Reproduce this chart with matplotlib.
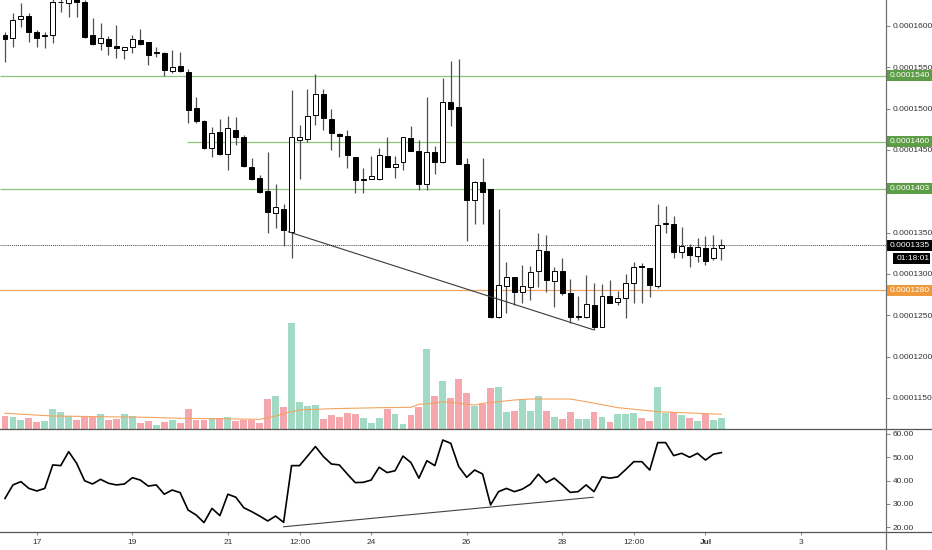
import numpy as np
import matplotlib as mpl
mpl.use("Agg")
import matplotlib.pyplot as plt
from matplotlib.patches import Rectangle
from matplotlib.lines import Line2D
from matplotlib.transforms import blended_transform_factory

plt.rcParams['font.family'] = ['Liberation Sans', 'DejaVu Sans']

# ---------------------------------------------------------
# data: 4h candles, Jun 16 08:00 -> Jul 1 08:00
# prices in units of 1e-7 (1600 -> 0.0001600)
# ---------------------------------------------------------
opens = [1589.2, 1585.5, 1608.5, 1612.1, 1592.8, 1588.0, 1589.2, 1628.5, 1627.9, 1632.5,
         1629.1, 1589.2, 1579.5, 1584.3, 1575.8, 1571.0, 1574.6, 1583.1, 1580.7, 1567.4,
         1567.4, 1545.6, 1551.6, 1544.4, 1500.8, 1485.1, 1452.4, 1471.8, 1445.2, 1474.2,
         1465.7, 1429.4, 1416.1, 1400.4, 1373.8, 1378.6, 1350.8, 1462.1, 1463.3, 1492.4,
         1517.8, 1487.5, 1469.4, 1466.9, 1441.5, 1414.0, 1414.9, 1414.9, 1442.7, 1429.4,
         1435.5, 1464.5, 1448.8, 1408.9, 1447.6, 1435.5, 1508.1, 1502.0, 1433.1, 1389.5,
         1411.3, 1402.8, 1247.9, 1285.4, 1296.3, 1278.2, 1284.2, 1303.6, 1327.8, 1291.5,
         1303.6, 1277.0, 1247.5, 1247.9, 1262.4, 1235.8, 1273.3, 1266.1, 1270.9, 1289.1,
         1308.6, 1307.2, 1285.4, 1360.3, 1360.5, 1326.6, 1332.6, 1321.7, 1331.4, 1319.3,
         1331.4]
highs = [1592.8, 1615.8, 1627.9, 1615.8, 1595.2, 1592.8, 1634.0, 1634.0, 1636.0, 1636.0,
         1631.0, 1609.7, 1603.6, 1587.9, 1601.2, 1574.6, 1589.2, 1596.4, 1580.7, 1574.6,
         1568.6, 1571.0, 1568.6, 1548.0, 1514.1, 1486.3, 1477.8, 1487.5, 1491.2, 1490.0,
         1468.2, 1440.3, 1419.7, 1447.6, 1408.9, 1384.7, 1522.6, 1480.3, 1523.8, 1542.0,
         1523.8, 1499.6, 1470.6, 1474.2, 1441.5, 1428.2, 1442.7, 1452.4, 1465.7, 1442.7,
         1465.7, 1479.1, 1462.1, 1514.1, 1454.8, 1537.1, 1557.7, 1560.1, 1440.3, 1412.5,
         1440.3, 1402.8, 1378.6, 1314.5, 1296.3, 1310.9, 1309.6, 1349.6, 1347.2, 1308.4,
         1319.3, 1293.9, 1273.3, 1298.8, 1289.1, 1287.9, 1292.7, 1279.4, 1300.0, 1314.5,
         1313.3, 1307.2, 1384.7, 1382.2, 1370.1, 1356.8, 1336.3, 1343.5, 1346.0, 1347.2,
         1342.3]
lows = [1556.5, 1574.6, 1598.8, 1580.7, 1574.6, 1573.4, 1579.5, 1617.0, 1610.9, 1610.9,
        1585.5, 1577.1, 1571.0, 1565.0, 1561.3, 1560.1, 1567.4, 1577.1, 1552.9, 1562.5,
        1539.5, 1543.2, 1544.4, 1482.7, 1482.7, 1451.0, 1441.5, 1444.0, 1425.8, 1456.0,
        1429.4, 1413.7, 1398.0, 1349.6, 1355.6, 1333.9, 1319.3, 1414.9, 1459.7, 1480.0,
        1474.2, 1450.0, 1441.5, 1428.2, 1398.0, 1398.0, 1414.9, 1413.7, 1429.4, 1416.1,
        1425.8, 1448.8, 1401.6, 1401.6, 1421.0, 1434.3, 1479.1, 1433.1, 1339.9, 1360.5,
        1360.5, 1246.7, 1246.7, 1252.8, 1262.4, 1264.9, 1268.5, 1284.2, 1278.2, 1260.0,
        1274.6, 1240.7, 1244.3, 1246.7, 1232.2, 1235.8, 1264.9, 1262.4, 1246.7, 1264.9,
        1264.9, 1272.1, 1283.0, 1349.6, 1319.3, 1319.3, 1308.4, 1314.5, 1310.9, 1316.9,
        1316.9]
closes = [1584.3, 1607.3, 1612.1, 1592.8, 1585.5, 1589.2, 1629.1, 1629.1, 1633.0, 1629.1,
          1586.7, 1578.3, 1585.5, 1575.8, 1573.4, 1574.6, 1584.3, 1578.3, 1565.0, 1567.6,
          1546.8, 1550.4, 1545.6, 1498.4, 1485.1, 1452.4, 1470.6, 1445.2, 1476.6, 1465.7,
          1430.6, 1414.9, 1399.2, 1375.0, 1381.0, 1353.2, 1465.7, 1465.7, 1491.2, 1517.8,
          1488.7, 1470.6, 1467.5, 1444.0, 1413.7, 1414.9, 1418.5, 1444.0, 1429.4, 1433.1,
          1465.7, 1448.8, 1408.9, 1447.6, 1435.5, 1508.1, 1499.6, 1433.1, 1389.5, 1411.3,
          1399.2, 1247.9, 1286.7, 1296.3, 1278.2, 1285.4, 1302.4, 1329.0, 1292.7, 1303.6,
          1277.0, 1247.9, 1248.3, 1263.7, 1235.8, 1273.3, 1264.9, 1270.9, 1289.1, 1308.4,
          1308.2, 1286.7, 1359.3, 1360.5, 1326.6, 1333.9, 1322.9, 1332.6, 1315.7, 1331.4,
          1335.0]
volume = [13, 12, 9, 11, 7, 8, 20, 17, 13, 9,
          12, 12, 15, 9, 10, 15, 13, 6, 8, 4,
          7, 9, 6, 20, 9, 9, 11, 11, 12, 8,
          9, 9, 6, 30, 33, 22, 106, 27, 23, 24,
          10, 14, 12, 16, 15, 11, 6, 11, 20, 15,
          5, 14, 22, 80, 33, 48, 31, 50, 36, 23,
          25, 41, 42, 17, 18, 30, 18, 33, 18, 12,
          10, 17, 10, 10, 17, 12, 7, 15, 15, 16,
          11, 8, 42, 16, 17, 14, 11, 8, 15, 9,
          11]
vol_ma_idx = [0, 6, 12, 18, 22, 29, 32, 33, 34, 36, 37, 39, 41, 47, 51, 52, 54, 55,
              57, 59, 60, 62, 64, 66, 71, 73, 77, 80, 82, 84, 87, 90]
vol_ma = [15.7, 13.0, 12.3, 11.7, 10.7, 10.0, 9.7, 11.3, 13.0, 17.3, 19.0, 19.7, 20.3,
          21.3, 21.7, 24.7, 25.7, 27.3, 25.7, 24.0, 25.7, 27.3, 29.0, 30.0, 30.0, 27.3,
          21.3, 19.0, 17.3, 16.7, 15.7, 14.7]
rsi = [32.3, 38.1, 39.5, 36.6, 35.5, 36.6, 46.7, 46.4, 52.4, 47.4,
       39.9, 38.5, 40.5, 38.8, 38.1, 38.5, 41.2, 40.2, 37.6, 38.1,
       34.1, 35.9, 34.8, 27.3, 25.2, 21.9, 28.0, 24.9, 34.1, 32.8,
       28.3, 26.6, 24.7, 22.6, 24.7, 22.0, 46.4, 46.4, 50.5, 54.6,
       50.3, 47.1, 46.7, 42.8, 39.1, 39.2, 40.2, 45.7, 43.4, 44.2,
       50.5, 47.7, 41.0, 48.5, 46.4, 57.4, 56.0, 46.0, 41.4, 44.5,
       42.8, 29.5, 35.2, 36.6, 35.2, 36.3, 38.4, 42.7, 39.1, 41.0,
       38.1, 34.9, 35.2, 38.1, 35.2, 41.6, 41.0, 41.6, 44.8, 48.1,
       48.1, 44.5, 56.3, 56.3, 50.7, 51.7, 50.0, 51.7, 48.8, 51.3,
       52.0]

# drawn objects on the chart
price_trend_idx = [35.6, 73.9]
price_trend_val = [1351.0, 1232.5]
rsi_trend_idx = [35.0, 73.9]
rsi_trend_val = [20.1, 32.8]
green_levels = [1540, 1460, 1403]
green_level_start = [None, 22.9, None]
orange_level = 1280
last_price = 1335
countdown = "01:18:01"

x_tick_pos = [4, 16, 28, 37, 46, 58, 70, 79, 88, 100]
x_tick_labels = ["17", "19", "21", "12:00", "24", "26", "28", "12:00", "Jul", "3"]
price_ticks = [1150, 1200, 1250, 1300, 1350, 1450, 1500, 1550, 1600]
rsi_ticks = [20, 30, 40, 50, 60]

# ---------------------------------------------------------
# layout (pixel based)
# ---------------------------------------------------------
W, H = 932, 550
AX_R = 886          # price scale line
MAIN_BOT = 429      # separator main / rsi
RSI_BOT = 532       # separator rsi / time axis
PX_CANDLE = 7.96
X0 = -5 / PX_CANDLE
X1 = (AX_R - 5) / PX_CANDLE

C_GREEN_LINE = "#8cc47a"
C_GREEN_LBL = "#5d9d45"
C_ORANGE_LINE = "#f2a461"
C_ORANGE_LBL = "#ee9a3c"
C_VOL_UP = "#a2dac6"
C_VOL_DN = "#f4a7ad"
C_TXT = "#333333"
C_AXIS = "#707070"

fig = plt.figure(figsize=(W / 100, H / 100), dpi=100)
fig.patch.set_facecolor("white")

main_rect = [0, (H - MAIN_BOT) / H, AX_R / W, MAIN_BOT / H]
rsi_rect = [0, (H - RSI_BOT) / H, AX_R / W, (RSI_BOT - MAIN_BOT) / H]

idx = np.arange(len(opens))
o = np.array(opens)
c = np.array(closes)
up = c >= o

# volume overlay (bottom of main pane)
axv = fig.add_axes(main_rect, zorder=0)
axv.bar(idx, volume, width=0.86, color=np.where(up, C_VOL_UP, C_VOL_DN), linewidth=0)
axv.plot(vol_ma_idx, vol_ma, color=C_ORANGE_LINE, lw=0.8)
axv.set_xlim(X0, X1)
axv.set_ylim(0, MAIN_BOT)
axv.axis("off")

# price pane
ax = fig.add_axes(main_rect, zorder=1)
ax.patch.set_alpha(0)
ax.set_xlim(X0, X1)
ax.set_ylim(1631.46 - 1.21 * MAIN_BOT, 1631.46)

for lvl, start in zip(green_levels, green_level_start):
    ax.hlines(lvl, X0 if start is None else start, X1, color=C_GREEN_LINE, lw=0.9, zorder=1)
ax.axhline(orange_level, color=C_ORANGE_LINE, lw=0.9, zorder=1)
ax.axhline(last_price, color="#444444", lw=0.7, ls=(0, (1, 1)), zorder=1)

ax.vlines(idx, lows, highs, color="#505050", lw=0.9, zorder=2)
body_lo = np.minimum(o, c)
body_h = np.maximum(np.abs(c - o), 1.0)
ax.bar(idx, body_h, bottom=body_lo, width=0.62,
       color=np.where(up, "white", "black"), edgecolor="black", linewidth=0.7, zorder=3)

ax.plot(price_trend_idx, price_trend_val, color="#3a3a3a", lw=0.8, zorder=4)

ax.yaxis.tick_right()
ax.set_yticks(price_ticks)
ax.set_yticklabels([f"{v * 1e-7:.7f}" for v in price_ticks])
ax.tick_params(axis="y", length=3, width=0.6, color=C_AXIS, pad=2,
               labelsize=6, labelcolor=C_TXT)
ax.set_xticks([])
for s in ax.spines.values():
    s.set_visible(False)

# labels on the price scale
tr = blended_transform_factory(ax.transAxes, ax.transData)
box_w = (W - AX_R) / AX_R
box_h = 11 * 1.21


def price_tag(val, fc, text=None, y=None, x0=1.0, w=box_w):
    yy = val if y is None else y
    ax.add_patch(Rectangle((x0, yy - box_h / 2), w, box_h, transform=tr,
                           facecolor=fc, edgecolor="none", clip_on=False, zorder=10))
    ax.text(x0 + 4 / AX_R, yy, text if text else f"{val * 1e-7:.7f}", transform=tr,
            color="white", fontsize=6, ha="left", va="center", clip_on=False, zorder=11)


for lvl in green_levels:
    price_tag(lvl, C_GREEN_LBL)
price_tag(last_price, "black")
price_tag(last_price, "black", text=countdown, y=1631.46 - 1.21 * 258,
          x0=1.0 + 7 / AX_R, w=37 / AX_R)
price_tag(orange_level, C_ORANGE_LBL)

# RSI pane
axr = fig.add_axes(rsi_rect, zorder=1)
axr.patch.set_alpha(0)
axr.plot(idx, rsi, color="black", lw=1.2)
axr.plot(rsi_trend_idx, rsi_trend_val, color="#444444", lw=0.8)
axr.set_xlim(X0, X1)
axr.set_ylim(60 - (434 - MAIN_BOT) / 2.325 + 0, 60 + (434 - MAIN_BOT) / 2.325)
axr.set_ylim(20 - (RSI_BOT - 527) / 2.325, 60 + (434 - MAIN_BOT) / 2.325)
axr.yaxis.tick_right()
axr.set_yticks(rsi_ticks)
axr.set_yticklabels([f"{v:.2f}" for v in rsi_ticks])
axr.tick_params(axis="y", length=3, width=0.6, color=C_AXIS, pad=2,
                labelsize=6, labelcolor=C_TXT)
axr.set_xticks(x_tick_pos)
axr.set_xticklabels(x_tick_labels)
axr.tick_params(axis="x", length=2, width=0.6, color=C_AXIS, pad=3,
                labelsize=6, labelcolor=C_TXT)
for lab in axr.get_xticklabels():
    if lab.get_text() == "Jul":
        lab.set_fontweight("bold")
for s in axr.spines.values():
    s.set_visible(False)

# pane separators and price scale line
for yy in (MAIN_BOT, RSI_BOT):
    fig.add_artist(Line2D([0, 1], [1 - yy / H] * 2, transform=fig.transFigure,
                          color="#555555", lw=0.9))
fig.add_artist(Line2D([AX_R / W] * 2, [0, 1], transform=fig.transFigure,
                      color=C_AXIS, lw=0.9))

fig.savefig("out.png", dpi=100, facecolor="white")
plt.close(fig)
